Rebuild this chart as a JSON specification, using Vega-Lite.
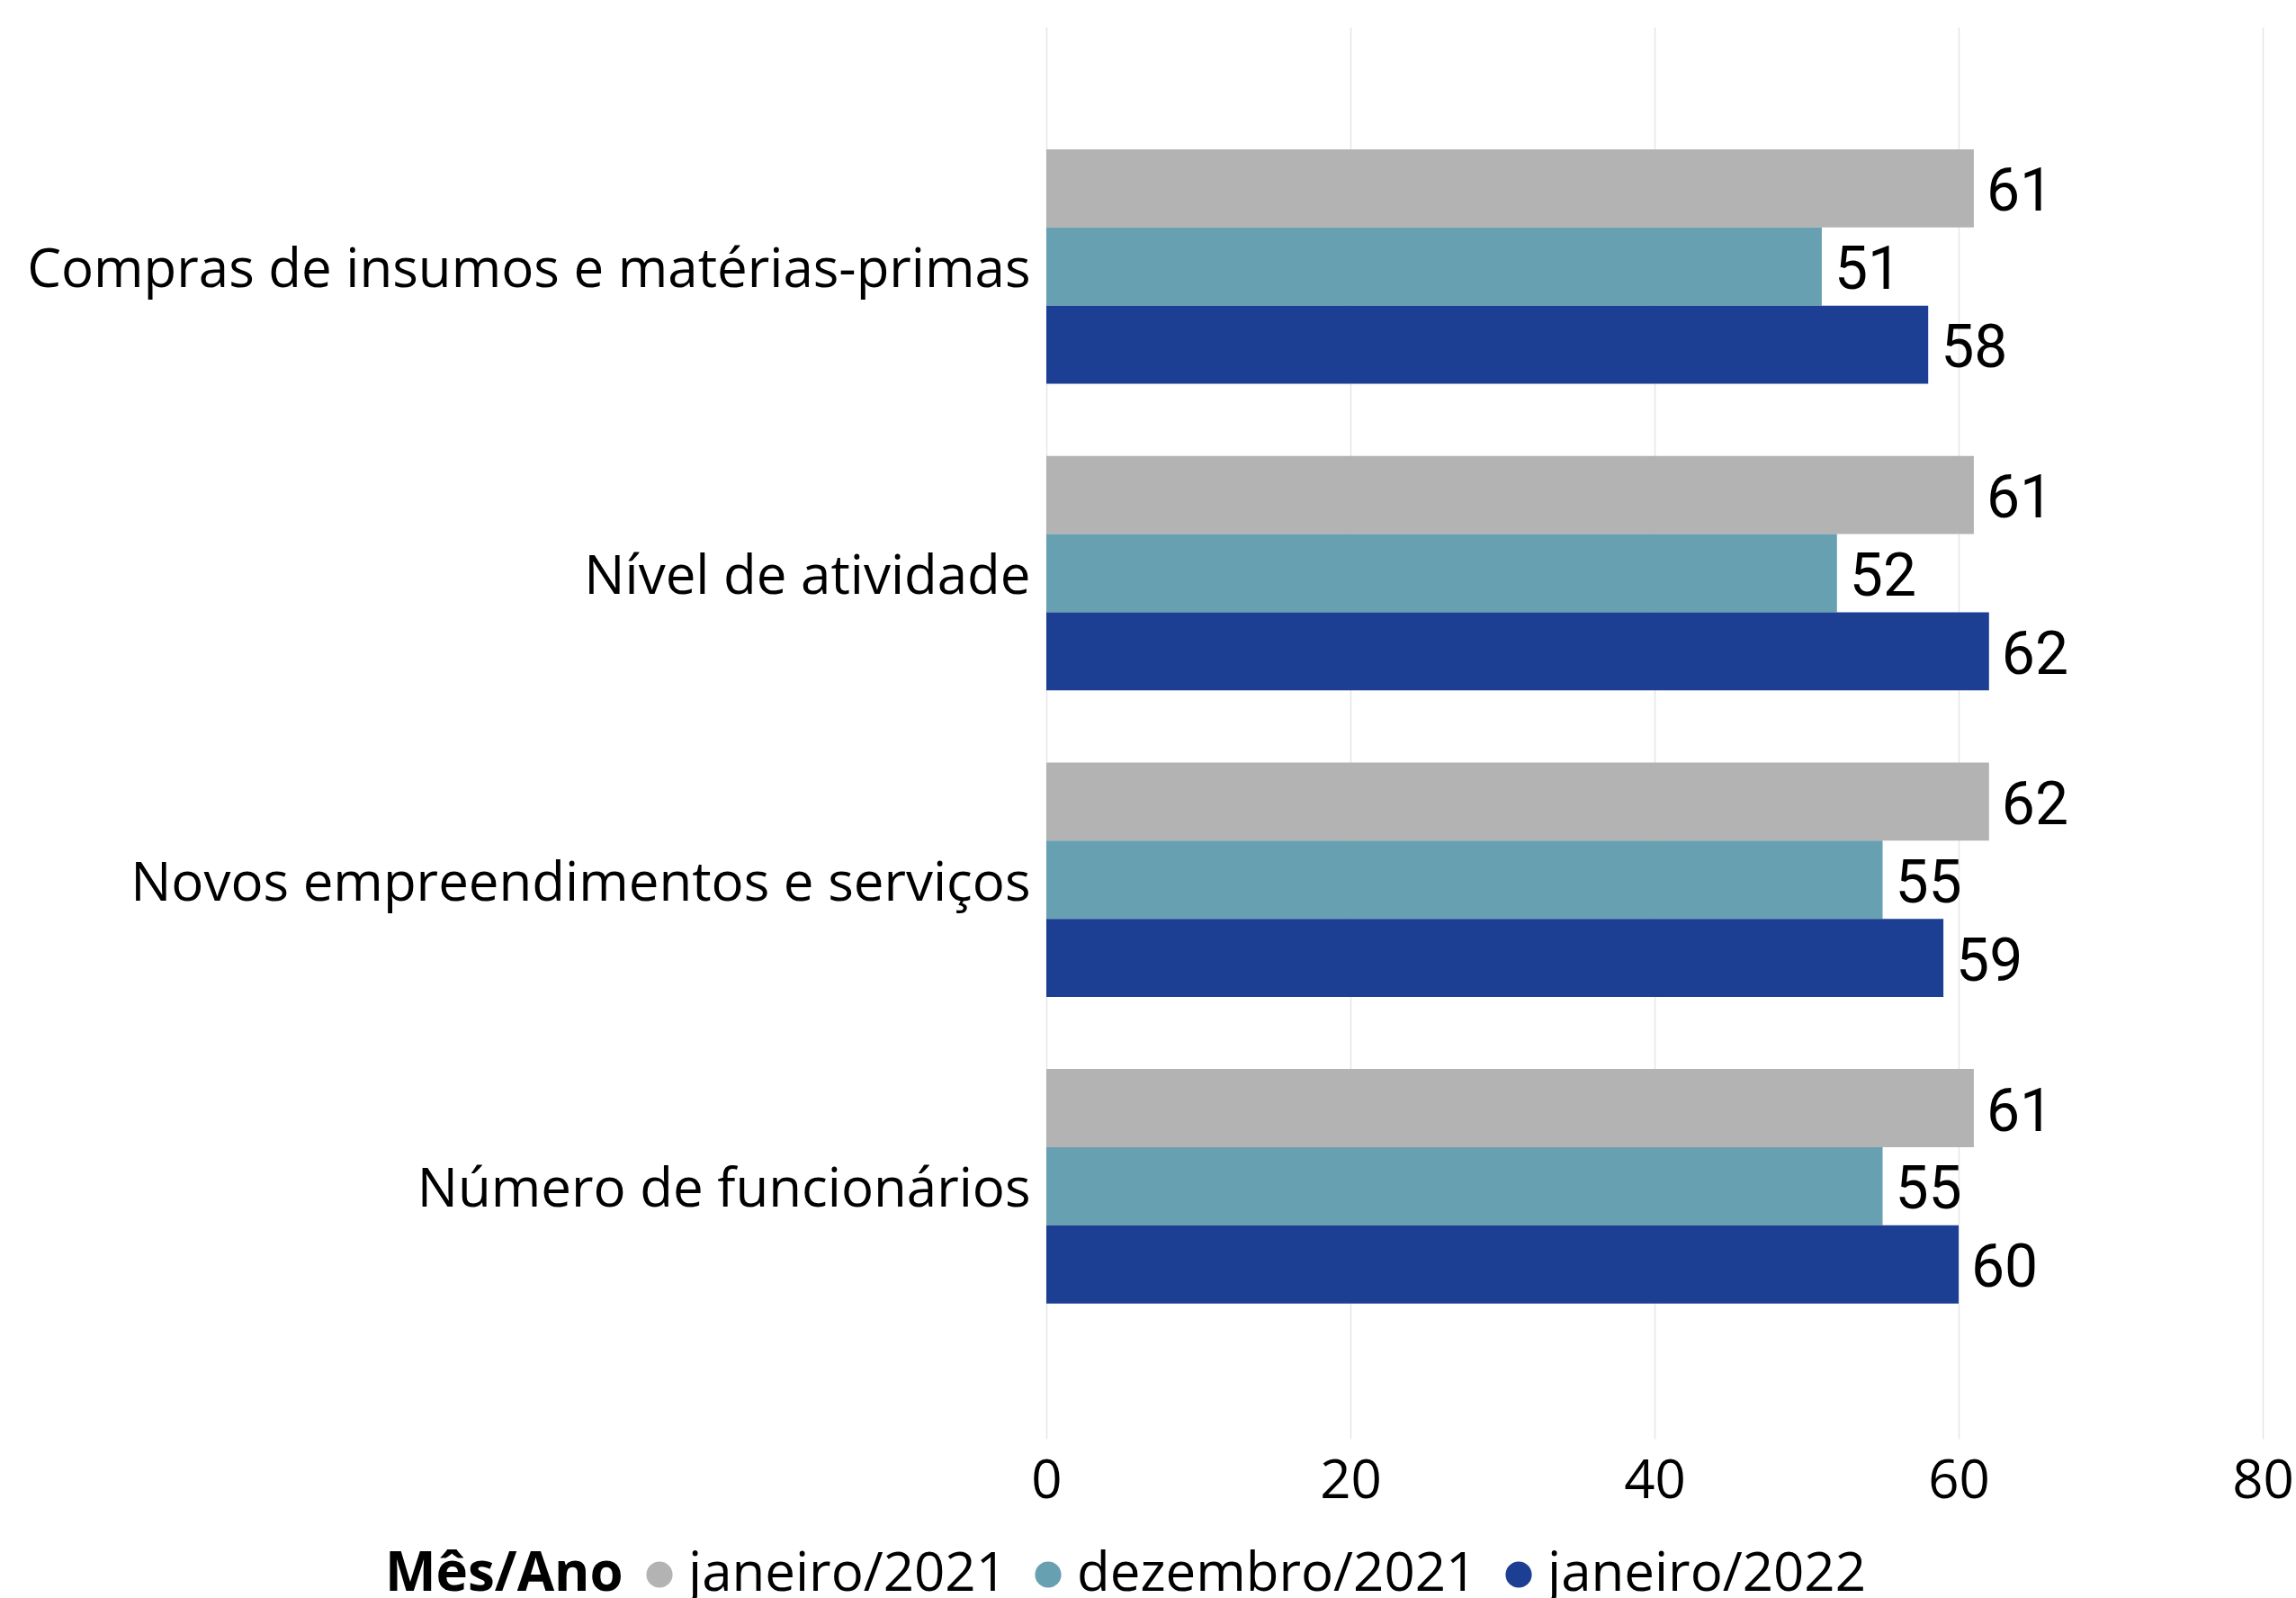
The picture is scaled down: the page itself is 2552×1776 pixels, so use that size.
{
  "$schema": "https://vega.github.io/schema/vega-lite/v6.json",
  "autosize": {"type": "none"},
  "width": 1352,
  "height": 1569,
  "padding": {"left": 1163, "top": 30, "right": 37, "bottom": 177},
  "background": "white",
  "config": {"view": {"stroke": null}},
  "data": {
    "values": [
      {"categoria": "Compras de insumos e matérias-primas", "periodo": "janeiro/2021", "valor": 61},
      {"categoria": "Compras de insumos e matérias-primas", "periodo": "dezembro/2021", "valor": 51},
      {"categoria": "Compras de insumos e matérias-primas", "periodo": "janeiro/2022", "valor": 58},
      {"categoria": "Nível de atividade", "periodo": "janeiro/2021", "valor": 61},
      {"categoria": "Nível de atividade", "periodo": "dezembro/2021", "valor": 52},
      {"categoria": "Nível de atividade", "periodo": "janeiro/2022", "valor": 62},
      {"categoria": "Novos empreendimentos e serviços", "periodo": "janeiro/2021", "valor": 62},
      {"categoria": "Novos empreendimentos e serviços", "periodo": "dezembro/2021", "valor": 55},
      {"categoria": "Novos empreendimentos e serviços", "periodo": "janeiro/2022", "valor": 59},
      {"categoria": "Número de funcionários", "periodo": "janeiro/2021", "valor": 61},
      {"categoria": "Número de funcionários", "periodo": "dezembro/2021", "valor": 55},
      {"categoria": "Número de funcionários", "periodo": "janeiro/2022", "valor": 60}
    ]
  },
  "encoding": {
    "y": {
      "field": "categoria",
      "type": "nominal",
      "sort": null,
      "title": null,
      "scale": {"paddingInner": 0.235, "paddingOuter": 0.42, "align": 0.475},
      "axis": {
        "domain": false,
        "ticks": false,
        "grid": false,
        "labelFont": "Open Sans",
        "labelFontSize": 60,
        "labelColor": "#000000",
        "labelPadding": 18,
        "labelLimit": 1200,
        "labelOffset": 5
      }
    },
    "yOffset": {
      "field": "periodo",
      "type": "nominal",
      "sort": ["janeiro/2021", "dezembro/2021", "janeiro/2022"],
      "scale": {"paddingInner": 0, "paddingOuter": 0}
    },
    "x": {
      "field": "valor",
      "type": "quantitative",
      "title": null,
      "scale": {"domain": [0, 80], "nice": false},
      "axis": {
        "values": [0, 20, 40, 60, 80],
        "domain": false,
        "ticks": false,
        "grid": true,
        "gridColor": "#E6E6E6",
        "gridWidth": 1.5,
        "labelFont": "Open Sans",
        "labelFontSize": 60,
        "labelColor": "#000000",
        "labelPadding": 18,
        "labelFlush": false
      }
    }
  },
  "layer": [
    {
      "mark": {"type": "bar"},
      "encoding": {
        "color": {
          "field": "periodo",
          "type": "nominal",
          "sort": ["janeiro/2021", "dezembro/2021", "janeiro/2022"],
          "scale": {
            "domain": ["janeiro/2021", "dezembro/2021", "janeiro/2022"],
            "range": ["#B3B3B3", "#67A0B1", "#1C3F93"]
          },
          "legend": {
            "title": "Mês/Ano",
            "orient": "none",
            "legendX": -735,
            "legendY": 1690,
            "direction": "horizontal",
            "titleOrient": "left",
            "titleFont": "Open Sans",
            "titleFontSize": 60,
            "titleFontWeight": "bold",
            "titleColor": "#000000",
            "titlePadding": 10,
            "titleLimit": 600,
            "labelFont": "Open Sans",
            "labelFontSize": 60,
            "labelColor": "#000000",
            "labelOffset": 2,
            "labelLimit": 600,
            "columnPadding": 16,
            "symbolType": "circle",
            "symbolSize": 850,
            "symbolStrokeWidth": 0
          }
        }
      }
    },
    {
      "mark": {
        "type": "text",
        "align": "left",
        "baseline": "middle",
        "dx": 14,
        "dy": 5,
        "font": "Roboto",
        "fontSize": 66,
        "fontWeight": "normal",
        "color": "#000000"
      },
      "encoding": {
        "text": {"field": "valor", "type": "quantitative"}
      }
    }
  ]
}
